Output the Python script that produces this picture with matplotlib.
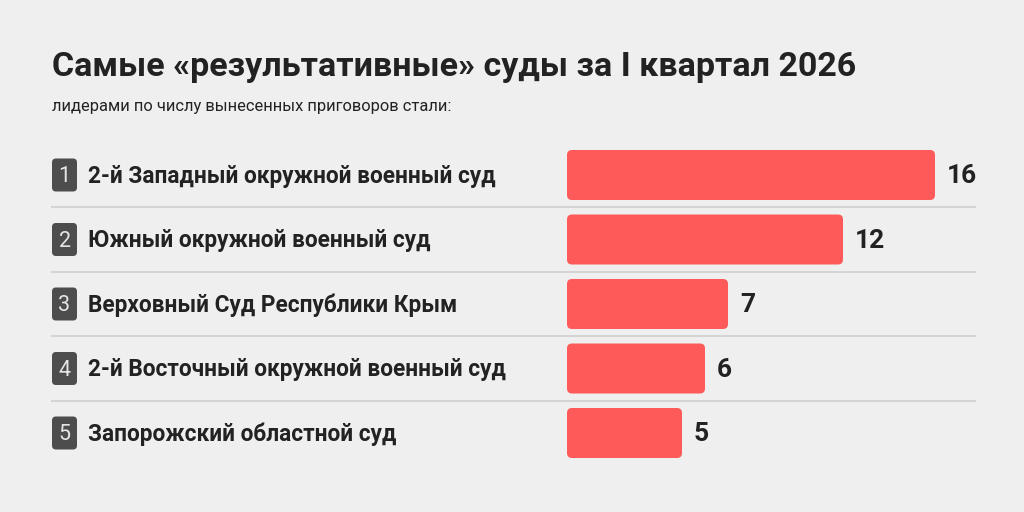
import matplotlib
import matplotlib.pyplot as plt
from matplotlib.patches import FancyBboxPatch

matplotlib.use('Agg')
plt.rcParams['font.family'] = ['Roboto', 'DejaVu Sans']

courts = [
    '2-й Западный окружной военный суд',
    'Южный окружной военный суд',
    'Верховный Суд Республики Крым',
    '2-й Восточный окружной военный суд',
    'Запорожский областной суд',
]
sentences = [16, 12, 7, 6, 5]
ranks = ['1', '2', '3', '4', '5']

title = 'Самые «результативные» суды за I квартал 2026'
subtitle = 'лидерами по числу вынесенных приговоров стали:'

bg = '#efefef'
bar_color = '#ff5a5a'
ink = '#222222'

W, H = 1024, 512
fig = plt.figure(figsize=(W / 100, H / 100), dpi=100, facecolor=bg)

# axes spans the row area in pixels; 23 px per unit, zero at x=567
ax = fig.add_axes([51 / W, (H - 465.25) / H, 925 / W, 322.5 / H])
ax.set_facecolor(bg)
px = 23.0
x0 = -(567 - 51) / px
x1 = (976 - 567) / px
ax.set_xlim(x0, x1)
ax.set_ylim(len(courts) - 0.5, -0.5)
ax.axis('off')
py = 64.5  # px per row

bars = ax.barh(range(len(courts)), sentences, height=50 / py, color=bar_color)
for b in bars:
    b.set_visible(False)
    ax.add_patch(FancyBboxPatch((b.get_x(), b.get_y()), b.get_width(), b.get_height(),
                                boxstyle='round,pad=0,rounding_size=%f' % (5 / px),
                                mutation_aspect=px / py, fc=bar_color, ec='none'))

for i in range(len(courts) - 1):
    ax.plot([x0, x1], [i + 0.5, i + 0.5], color='#cfcfcf', lw=1.2)

for i, (name, v, r) in enumerate(zip(courts, sentences, ranks)):
    bw = 25 / px
    bh = 33 / py
    bx = x0 + 1 / px
    ax.add_patch(FancyBboxPatch((bx, i - bh / 2), bw, bh,
                                boxstyle='round,pad=0,rounding_size=%f' % (4 / px),
                                mutation_aspect=px / py, fc='#4d4d4d', ec='none'))
    ax.text(bx + bw / 2, i + 0.03, r, ha='center', va='center', fontsize=15.5,
            color='#e6e6e6')
    ax.text(x0 + 37 / px, i + 0.02, name, ha='left', va='center', fontsize=16.3,
            fontweight='bold', color=ink)
    ax.text(v + 12 / px, i + 0.02, str(v), ha='left', va='center', fontsize=19,
            fontweight='bold', color=ink)

fig.text(52 / W, 1 - 76 / H, title, ha='left', va='baseline', fontsize=24.5,
         fontweight='bold', color=ink)
fig.text(52 / W, 1 - 111 / H, subtitle, ha='left', va='baseline', fontsize=11.9,
         color=ink)

fig.savefig('out.png', dpi=100, facecolor=bg)
